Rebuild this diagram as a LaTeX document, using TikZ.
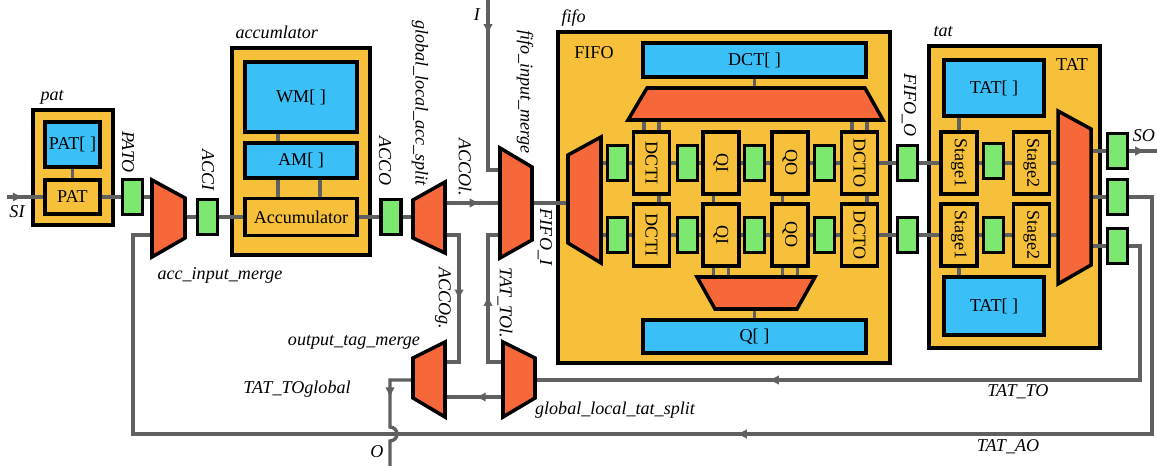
\documentclass[tikz,border=0pt]{standalone}
\usepackage{fontspec}
\setmainfont{Liberation Serif}
\usepackage{graphicx}
\usetikzlibrary{arrows.meta,calc,decorations.markings}

\definecolor{grpyel}{RGB}{246,192,58}
\definecolor{memblue}{RGB}{58,191,246}
\definecolor{muxred}{RGB}{246,104,58}
\definecolor{reggrn}{RGB}{124,232,112}
\definecolor{wiregray}{RGB}{96,96,96}

\pgfdeclarelayer{back}
\pgfdeclarelayer{wires}
\pgfsetlayers{back,wires,main}

\begin{document}
\begin{tikzpicture}[x=0.02cm, y=-0.02cm, font=\fontsize{10.3}{12}\selectfont,
  grp/.style={draw, line width=2pt, fill=grpyel, inner sep=0pt},
  mem/.style={draw, line width=2pt, fill=memblue, inner sep=0pt},
  unit/.style={draw, line width=2pt, fill=grpyel, inner sep=0pt},
  vunit/.style={unit, minimum width=0.72cm, minimum height=1.24cm},
  reg/.style={draw, line width=2pt, fill=reggrn, inner sep=0pt, minimum width=0.4cm, minimum height=0.7cm},
  mx/.style={draw, line width=2pt, fill=muxred},
  wire/.style={draw=wiregray, line width=1.9pt},
  tipat/.style={postaction={decorate}, decoration={markings, mark=at position #1 with {\arrow{Latex[length=6pt,width=5.5pt,color=wiregray]}}}},
  sig/.style={font=\fontsize{10.3}{12}\selectfont\itshape, inner sep=0pt},
  vsig/.style={sig, rotate=-90}]
\useasboundingbox (0,0) rectangle (1157,466);

% group frames
\begin{pgfonlayer}{back}
\node[grp, minimum width=1.6cm, minimum height=2.3cm] (pat) at (73,167.5) {};
\node[grp, minimum width=2.76cm, minimum height=4.14cm] (acc) at (301,151.5) {};
\node[grp, minimum width=6.64cm, minimum height=6.62cm] (fifo) at (724,197.5) {};
\node[grp, minimum width=3.42cm, minimum height=6.04cm] (tat) at (1014.5,197) {};
\end{pgfonlayer}
\node[sig, anchor=base west] (pat-l) at ([shift={(0.18cm,0.16cm)}]pat.north west) {pat};
\node[sig, anchor=base west] (acc-l) at ([shift={(0.1cm,0.16cm)}]acc.north west) {accumlator};
\node[sig, anchor=base west] (fifo-l) at ([shift={(0.1cm,0.16cm)}]fifo.north west) {fifo};
\node[sig, anchor=base west] (tat-l) at ([shift={(0.12cm,0.16cm)}]tat.north west) {tat};

% pat
\node[mem, minimum width=1.1cm, minimum height=0.9cm] (patm) at (72.5,144.5) {PAT[ ]};
\node[unit, minimum width=1.1cm, minimum height=0.68cm] (patu) at (72.5,197) {PAT};
\node[reg] (pato) at (132.5,197) {};

% accumulator
\node[mem, minimum width=2.24cm, minimum height=1.4cm] (wm) at (301,97) {WM[ ]};
\node[mem, minimum width=2.24cm, minimum height=0.7cm] (am) at (301,160.5) {AM[ ]};
\node[unit, minimum width=2.24cm, minimum height=0.74cm] (accu) at (301,217) {Accumulator};
\node[reg] (acci) at (207.5,217) {};
\node[reg] (acco) at (391,217) {};

% fifo
\node[inner sep=0pt] (fifo-t) at (594,53) {FIFO};
\node[mem, minimum width=4.46cm, minimum height=0.68cm] (dct) at (754.5,60) {DCT[ ]};
\node[mem, minimum width=4.46cm, minimum height=0.66cm] (qm) at (754.5,336.5) {Q[ ]};
\node[reg] (g11) at (617.5,163) {};
\node[vunit] (dci1) at (651.5,163) {\rotatebox{-90}{DCTI}};
\node[reg] (g12) at (687.5,163) {};
\node[vunit] (qi1) at (721,163) {\rotatebox{-90}{QI}};
\node[reg] (g13) at (754.5,163) {};
\node[vunit] (qo1) at (790,163) {\rotatebox{-90}{QO}};
\node[reg] (g14) at (824.5,163) {};
\node[vunit] (dco1) at (859.5,163) {\rotatebox{-90}{DCTO}};
\node[reg] (g21) at (617.5,235) {};
\node[vunit] (dci2) at (651.5,235) {\rotatebox{-90}{DCTI}};
\node[reg] (g22) at (687.5,235) {};
\node[vunit] (qi2) at (721,235) {\rotatebox{-90}{QI}};
\node[reg] (g23) at (754.5,235) {};
\node[vunit] (qo2) at (790,235) {\rotatebox{-90}{QO}};
\node[reg] (g24) at (824.5,235) {};
\node[vunit] (dco2) at (859.5,235) {\rotatebox{-90}{DCTO}};
\node[reg] (fo1) at (907.5,163) {};
\node[reg] (fo2) at (907.5,235) {};

% tat
\node[inner sep=0pt] (tat-t) at (1072,65) {TAT};
\node[mem, minimum width=2cm, minimum height=1.12cm] (tatm1) at (994,88) {TAT[ ]};
\node[mem, minimum width=2cm, minimum height=1.16cm] (tatm2) at (994,306) {TAT[ ]};
\node[vunit] (s11) at (959,163) {\rotatebox{-90}{Stage1}};
\node[reg] (tg1) at (993.5,161) {};
\node[vunit] (s21) at (1031.5,163) {\rotatebox{-90}{Stage2}};
\node[vunit] (s12) at (959,235) {\rotatebox{-90}{Stage1}};
\node[reg] (tg2) at (993.5,235) {};
\node[vunit] (s22) at (1031.5,235) {\rotatebox{-90}{Stage2}};
\node[reg] (og1) at (1117.5,151) {};
\node[reg] (og2) at (1117.5,197) {};
\node[reg] (og3) at (1117.5,246) {};

% muxes
\draw[mx] (152,180) -- (185,198) -- (185,238) -- (152,257) -- cycle;
\coordinate (aim-i1) at (152,197); \coordinate (aim-i2) at (152,235); \coordinate (aim-o) at (185,217);
\draw[mx] (413,200) -- (445,182) -- (445,253) -- (413,238) -- cycle;
\coordinate (gas-i) at (413,217); \coordinate (gas-o1) at (445,203); \coordinate (gas-o2) at (445,235);
\draw[mx] (500,148) -- (532,167) -- (532,240) -- (500,258) -- cycle;
\coordinate (fim-i1) at (500,170); \coordinate (fim-i2) at (500,203); \coordinate (fim-i3) at (500,235); \coordinate (fim-o) at (532,203);
\draw[mx] (568,155) -- (601,137) -- (601,263) -- (568,243) -- cycle;
\coordinate (fd-i) at (568,203); \coordinate (fd-o1) at (601,163); \coordinate (fd-o2) at (601,235);
\draw[mx] (647,88) -- (865,88) -- (883,120) -- (628,120) -- cycle;
\coordinate (tt) at (756,104);
\draw[mx] (697,277) -- (815,277) -- (797,309) -- (715,309) -- cycle;
\coordinate (bt) at (756,293);
\draw[mx] (1058,111) -- (1091,129) -- (1091,265) -- (1058,284) -- cycle;
\coordinate (tm-i1) at (1058,163); \coordinate (tm-i2) at (1058,235);
\coordinate (tm-o1) at (1091,151); \coordinate (tm-o2) at (1091,197); \coordinate (tm-o3) at (1091,246);
\draw[mx] (413,358) -- (445,342) -- (445,417) -- (413,398) -- cycle;
\coordinate (otm-i1) at (445,362); \coordinate (otm-i2) at (445,397); \coordinate (otm-o) at (413,380);
\draw[mx] (503,342) -- (535,358) -- (535,398) -- (503,417) -- cycle;
\coordinate (gts-i) at (535,380); \coordinate (gts-o1) at (503,362); \coordinate (gts-o2) at (503,397);

% free ends and bends
\coordinate (si) at (7,197);
\coordinate (iin) at (488,0);
\coordinate (soe) at (1157,151);
\coordinate (accg) at (459,362);
\coordinate (tolt) at (488,235);
\coordinate (aoR) at (1152,434);
\coordinate (aoL) at (133,434);
\coordinate (toR) at (1140,380);
\coordinate (ohop) at (390,427);
\coordinate (oe) at (390,466);

\begin{pgfonlayer}{wires}
\draw[wire, tipat=0.45] (si) -- (patu.west);
\draw[wire] (patm.south) -- (patu.north);
\draw[wire] (patu.east) -- (aim-i1);
\draw[wire] (aim-o) -- (accu.west);
\draw[wire] ([xshift=-0.46cm]wm.south) -- ([xshift=-0.46cm]am.north);
\draw[wire] ([xshift=-0.46cm]am.south) -- ([xshift=-0.46cm]accu.north);
\draw[wire] ([xshift=0.38cm]am.south) -- ([xshift=0.38cm]accu.north);
\draw[wire] (accu.east) -- (gas-i);
\draw[wire, tipat=0.64] (gas-o1) -- (fim-i2);
\draw[wire, tipat=0.51] (gas-o2) -| (accg) -- (otm-i1);
\draw[wire, tipat=0.19] (iin) |- (fim-i1);
\draw[wire] (fim-o) -- (fd-i);
\draw[wire] (fd-o1) -- (tm-i1);
\draw[wire] (fd-o2) -- (tm-i2);
% fifo tables
\draw[wire] (dct.south) -- (dct.south |- tt);
\draw[wire] (qm.north) -- (qm.north |- bt);
\draw[wire] ([xshift=-0.15cm]dci1.north) -- ++(0,-16);
\draw[wire] ([xshift=0.15cm]dci2.north) -- ++(0,-90);
\draw[wire] ([xshift=-0.15cm]dco1.north) -- ++(0,-16);
\draw[wire] ([xshift=0.15cm]dco2.north) -- ++(0,-90);
\draw[wire] ([xshift=-0.15cm]qi1.south) -- ++(0,90);
\draw[wire] ([xshift=0.15cm]qi2.south) -- ++(0,16);
\draw[wire] ([xshift=-0.15cm]qo1.south) -- ++(0,90);
\draw[wire] ([xshift=0.15cm]qo2.south) -- ++(0,16);
% tat tables
\draw[wire] (s11.north) -- (s11.north |- tatm1.south);
\draw[wire] (s12.south) -- (s12.south |- tatm2.north);
% outputs and feedback
\draw[wire, tipat=0.83] (tm-o1) -- (soe);
\draw[wire, tipat=0.465] (tm-o2) -| (aoR) -- (aoL) |- (aim-i2);
\draw[wire, tipat=0.704] (tm-o3) -| (toR) -- (gts-i);
\draw[wire, tipat=0.53] (gts-o1) -| (tolt) -- (fim-i3);
\draw[wire, tipat=0.48] (gts-o2) -- (otm-i2);
\draw[wire, tipat=0.35] (otm-o) -| (ohop) arc[start angle=90, end angle=-90, radius=0.14cm] -- (oe);
\end{pgfonlayer}

% signal labels
\node[vsig] (pato-l) at (128,152) {PATO};
\node[vsig] (acci-l) at (208,170) {ACCI};
\node[vsig] (acco-l) at (385,161) {ACCO};
\node[vsig] (gas-l) at (420,103) {global\_local\_acc\_split};
\node[vsig] (accol-l) at (465,167) {ACCOl.};
\node[vsig] (fim-l) at (525,92) {fifo\_input\_merge};
\node[vsig] (fifoi-l) at (545,237) {FIFO\_I};
\node[vsig] (fifoo-l) at (909,105) {FIFO\_O};
\node[vsig] (accog-l) at (443,298) {ACCOg.};
\node[vsig] (tatol-l) at (505,303) {TAT\_TOl.};
\node[sig] (si-l) at (17,212) {SI};
\node[sig] (so-l) at (1144,136) {SO};
\node[sig] (i-l) at (477,15) {I};
\node[sig] (o-l) at (377,452) {O};
\node[sig] (aim-l) at (220,275) {acc\_input\_merge};
\node[sig] (otm-l) at (354,342) {output\_tag\_merge};
\node[sig] (tatog-l) at (297,389) {TAT\_TOglobal};
\node[sig] (gts-l) at (615,410) {global\_local\_tat\_split};
\node[sig] (tato-l) at (1018,392) {TAT\_TO};
\node[sig] (tatao-l) at (1008,447) {TAT\_AO};
\end{tikzpicture}
\end{document}
